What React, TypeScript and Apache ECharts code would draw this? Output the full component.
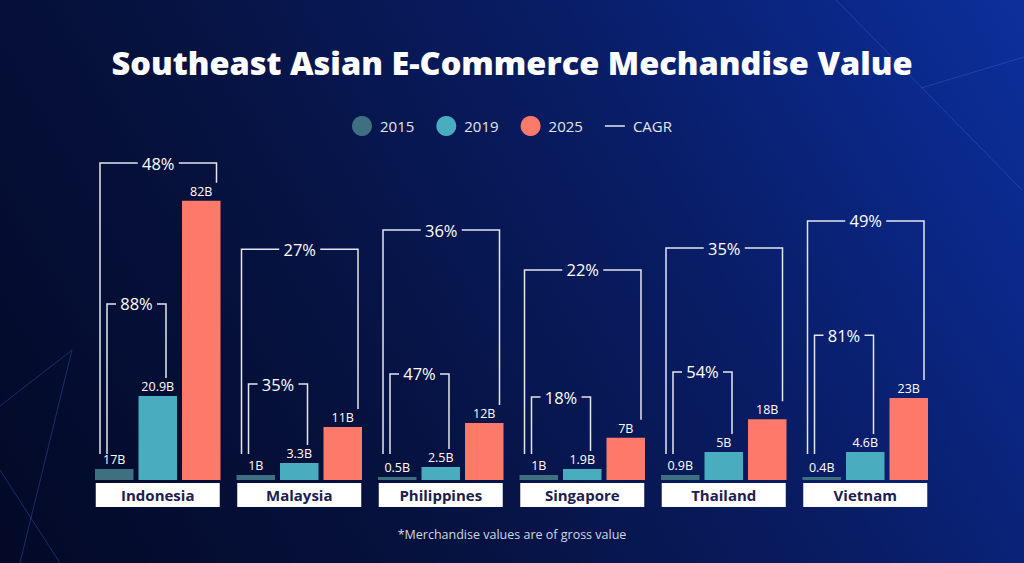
import React, { useEffect, useRef } from "react";
import * as echarts from "echarts";

// ---------- data ----------
const countries = ["Indonesia", "Malaysia", "Philippines", "Singapore", "Thailand", "Vietnam"];
const yearNames = ["2015", "2019", "2025"];
// Bar heights as drawn in the original graphic (it is illustrative, not to scale)
const height2015 = [3.2, 1.5, 0.9, 1.5, 1.5, 0.9];
const height2019 = [24.7, 5.0, 3.8, 3.2, 8.2, 8.2];
const height2025 = [82.1, 15.6, 16.8, 12.4, 17.9, 24.1];
// Printed value labels
const label2015 = ["17B", "1B", "0.5B", "1B", "0.9B", "0.4B"];
const label2019 = ["20.9B", "3.3B", "2.5B", "1.9B", "5B", "4.6B"];
const label2025 = ["82B", "11B", "12B", "7B", "18B", "23B"];
// CAGR brackets
const cagr2015to2025 = ["48%", "27%", "36%", "22%", "35%", "49%"];
const cagr2015to2019 = ["88%", "35%", "47%", "18%", "54%", "81%"];
const bracketLevel2025 = [93.2, 67.9, 73.5, 61.8, 68.2, 76.2];
const bracketLevel2019 = [51.8, 28.2, 31.2, 24.4, 31.8, 42.6];

const title = "Southeast Asian E-Commerce Mechandise Value";
const footnote = "*Merchandise values are of gross value";

// ---------- styles ----------
const FONT = "'Open Sans', 'DejaVu Sans', sans-serif";
const colors = ["#3e7082", "#4aacbf", "#fd7a6a"];
const bracketColor = "#e3e6ee";

export default function App() {
  const ref = useRef<HTMLDivElement>(null);

  useEffect(() => {
    if (!ref.current) return;
    const chart = echarts.init(ref.current, null, { renderer: "svg" });

    const heights = [height2015, height2019, height2025];
    const labels = [label2015, label2019, label2025];

    const barSeries = yearNames.map((name, s) => ({
      name,
      type: "bar",
      data: heights[s],
      barWidth: 38.5,
      barGap: "13%",
      itemStyle: { color: colors[s] },
      label: {
        show: true,
        position: "top",
        distance: 3,
        color: "#ffffff",
        fontFamily: FONT,
        fontSize: 12.5,
        formatter: (p: any) => labels[s][p.dataIndex],
      },
      z: 3,
    }));

    // bracket data: [categoryIndex, level, rightBarHeight, outerFlag]
    const bracketData: number[][] = [];
    const bracketText: string[] = [];
    countries.forEach((_, i) => {
      bracketData.push([i, bracketLevel2025[i], height2025[i], 1]);
      bracketText.push(cagr2015to2025[i]);
      bracketData.push([i, bracketLevel2019[i], height2019[i], 0]);
      bracketText.push(cagr2015to2019[i]);
    });

    const cagrSeries = {
      name: "CAGR",
      type: "custom",
      itemStyle: { color: bracketColor },
      data: bracketData,
      z: 4,
      renderItem: (params: any, api: any) => {
        const i = params.dataIndex;
        const cat = api.value(0);
        const level = api.value(1);
        const rightVal = api.value(2);
        const outer = api.value(3) === 1;
        const pt = api.coord([cat, level]);
        const cx = pt[0];
        const ty = pt[1];
        const base = api.coord([cat, 0])[1];
        const rTop = api.coord([cat, rightVal])[1];
        const xl = cx + (outer ? -57.75 : -50.75);
        const xr = cx + (outer ? 58.75 : 8.25);
        const mx = (xl + xr) / 2;
        const half = 20.5;
        const style = { stroke: bracketColor, lineWidth: 1.5, fill: null };
        return {
          type: "group",
          children: [
            {
              type: "polyline",
              shape: { points: [[xl, base - 26], [xl, ty], [mx - half, ty]] },
              style,
            },
            {
              type: "polyline",
              shape: { points: [[mx + half, ty], [xr, ty], [xr, rTop - 18]] },
              style,
            },
            {
              type: "text",
              style: {
                text: bracketText[i],
                x: mx,
                y: ty,
                align: "center",
                verticalAlign: "middle",
                textAlign: "center",
                textVerticalAlign: "middle",
                fill: "#ffffff",
                fontSize: 16.5,
                fontFamily: FONT,
              },
            },
          ],
        };
      },
    };

    const linePath =
      "path://M0 0h0.01v0.01h-0.01z M0 9.25h20v1.5h-20z M19.99 19.99h0.01v0.01h-0.01z";

    const deco = { stroke: "rgba(70,110,230,0.35)", lineWidth: 1 };

    chart.setOption({
      animation: false,
      backgroundColor: "transparent",
      title: {
        text: title,
        left: "center",
        top: 41,
        textStyle: {
          color: "#ffffff",
          fontFamily: FONT,
          fontWeight: 800,
          fontSize: 32.5,
        },
      },
      legend: {
        top: 111,
        left: "center",
        itemWidth: 20,
        itemHeight: 20,
        itemGap: 22,
        textStyle: { color: "#e2e5ee", fontFamily: FONT, fontSize: 15, padding: [0, 0, 0, 3] },
        data: [
          { name: "2015", icon: "circle" },
          { name: "2019", icon: "circle" },
          { name: "2025", icon: "circle" },
          { name: "CAGR", icon: linePath },
        ],
      },
      grid: { left: 87, right: 88, top: 140, bottom: 83, containLabel: false },
      xAxis: {
        type: "category",
        data: countries,
        axisLine: { show: false },
        axisTick: { show: false },
        splitLine: { show: false },
        axisLabel: {
          margin: 3,
          interval: 0,
          color: "#1b2050",
          fontWeight: "bold",
          fontSize: 15,
          fontFamily: FONT,
          backgroundColor: "#ffffff",
          width: 124,
          height: 24,
          lineHeight: 24,
          align: "center",
        },
      },
      yAxis: {
        type: "value",
        min: 0,
        max: 100,
        show: false,
        splitLine: { show: false },
      },
      graphic: [
        { type: "line", silent: true, z: -1, shape: { x1: 836, y1: 0, x2: 1022, y2: 190 }, style: deco },
        { type: "line", silent: true, z: -1, shape: { x1: 921, y1: 88, x2: 1024, y2: 57 }, style: deco },
        { type: "line", silent: true, z: -1, shape: { x1: 72, y1: 350, x2: 0, y2: 406 }, style: deco },
        { type: "line", silent: true, z: -1, shape: { x1: 72, y1: 350, x2: 20, y2: 563 }, style: deco },
        { type: "line", silent: true, z: -1, shape: { x1: 0, y1: 470, x2: 60, y2: 563 }, style: deco },
        {
          type: "text",
          left: "center",
          top: 528,
          style: {
            text: footnote,
            fill: "#d3d7e2",
            fontSize: 12.5,
            fontFamily: FONT,
          },
        },
      ],
      series: [...barSeries, cagrSeries],
    });

    return () => chart.dispose();
  }, []);

  return (
    <div
      ref={ref}
      style={{
        position: "fixed",
        left: 0,
        top: 0,
        width: 1024,
        height: 563,
        background:
          "linear-gradient(60deg, #030926 0%, #061240 35%, #091d66 65%, #0b2a8e 90%, #0d2f9a 100%)",
      }}
    />
  );
}
